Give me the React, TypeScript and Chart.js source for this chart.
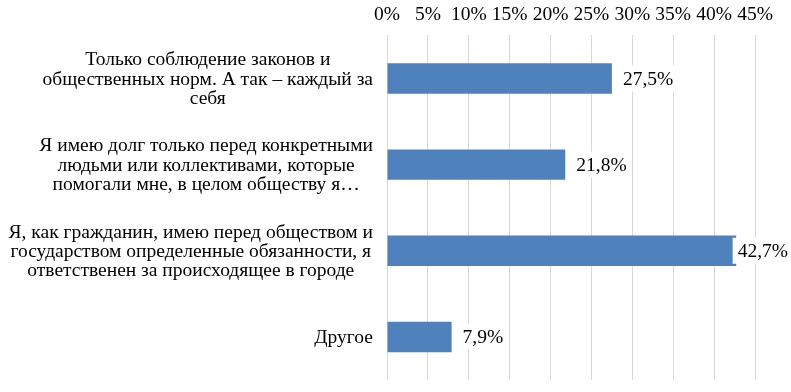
import React, { useEffect, useRef } from "react";
import { Chart, registerables } from "chart.js";

Chart.register(...registerables);

const categories: string[][] = [
  ["Только соблюдение законов и", "общественных норм. А так – каждый за", "себя"],
  ["Я имею долг только перед конкретными", "людьми или коллективами, которые", "помогали мне, в целом обществу я…"],
  ["Я, как гражданин, имею перед обществом и", "государством определенные обязанности, я", "ответственен за происходящее в городе"],
  ["Другое"],
];
const values: number[] = [27.5, 21.8, 42.7, 7.9];
const valueLabels: string[] = ["27,5%", "21,8%", "42,7%", "7,9%"];

const FAMILY = "'Liberation Serif', 'Times New Roman', serif";
const SIZE = 19.5;
const FONT = `${SIZE}px ${FAMILY}`;

const categoryLabelsPlugin = {
  id: "categoryLabels",
  afterDraw(chart: any) {
    const ctx = chart.ctx;
    const yScale = chart.scales.y;
    const right = chart.chartArea.left - 14;
    ctx.save();
    ctx.font = FONT;
    ctx.fillStyle = "#000";
    ctx.textBaseline = "middle";
    ctx.textAlign = "center";
    const lh = 19.3;
    categories.forEach((lines, i) => {
      const cy = yScale.getPixelForTick(i);
      let maxW = 0;
      lines.forEach((l) => (maxW = Math.max(maxW, ctx.measureText(l).width)));
      const cx = right - maxW / 2;
      const startY = cy - ((lines.length - 1) * lh) / 2;
      lines.forEach((l, k) => ctx.fillText(l, cx, startY + k * lh + 1));
    });
    ctx.restore();
  },
};

const valueLabelsPlugin = {
  id: "valueLabels",
  afterDatasetsDraw(chart: any) {
    const ctx = chart.ctx;
    const meta = chart.getDatasetMeta(0);
    ctx.save();
    ctx.font = FONT;
    ctx.textBaseline = "middle";
    ctx.textAlign = "left";
    meta.data.forEach((bar: any, i: number) => {
      const txt = valueLabels[i];
      const w = ctx.measureText(txt).width;
      let x = bar.x + 11;
      if (x + w > chart.width - 3) x = chart.width - 3 - w;
      const y = bar.y;
      ctx.fillStyle = "#ffffff";
      ctx.fillRect(x - 5, y - 13, w + 10, 26);
      ctx.fillStyle = "#000";
      ctx.fillText(txt, x, y + 1);
    });
    ctx.restore();
  },
};

export default function App() {
  const ref = useRef<HTMLCanvasElement>(null);
  useEffect(() => {
    if (!ref.current) return;
    const chart = new Chart(ref.current, {
      type: "bar",
      data: {
        labels: categories.map((c) => c.join(" ")),
        datasets: [
          {
            data: values,
            backgroundColor: "#4f81bd",
            borderWidth: 0,
            barPercentage: 0.353,
            categoryPercentage: 1,
          },
        ],
      },
      options: {
        indexAxis: "y",
        animation: false,
        responsive: false,
        devicePixelRatio: 1,
        layout: { padding: { top: -6, right: 36, bottom: 12, left: 0 } },
        plugins: { legend: { display: false }, tooltip: { enabled: false } },
        scales: {
          x: {
            position: "top",
            min: 0,
            max: 45,
            ticks: {
              stepSize: 5,
              padding: 9,
              color: "#000",
              maxRotation: 0,
              minRotation: 0,
              autoSkip: false,
              font: { family: FAMILY, size: SIZE },
              callback: (v: any) => v + "%",
            },
            grid: { color: "#d9d9d9", lineWidth: 1, drawTicks: false },
            border: { display: false },
          },
          y: {
            ticks: { display: false },
            grid: { display: false, drawTicks: false },
            border: { display: false },
            afterFit: (scale: any) => {
              scale.width = 387;
            },
          },
        },
      },
      plugins: [categoryLabelsPlugin, valueLabelsPlugin],
    });
    return () => chart.destroy();
  }, []);
  return (
    <div style={{ position: "fixed", left: 0, top: 0, width: 791, height: 392, background: "#fff" }}>
      <canvas ref={ref} width={791} height={392} style={{ display: "block" }} />
    </div>
  );
}
